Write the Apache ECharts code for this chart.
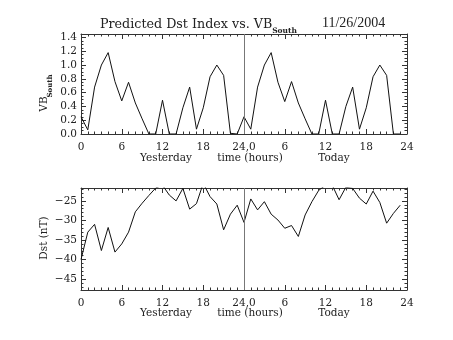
<!DOCTYPE html>
<html><head><meta charset="utf-8">
<script src="https://cdn.jsdelivr.net/npm/echarts@6/dist/echarts.min.js"></script>
<style>html,body{margin:0;padding:0;background:#fff}#c{width:453px;height:340px}</style>
</head><body><div id="c"></div>
<script>
const hours = [0,1,2,3,4,5,6,7,8,9,10,11,12,13,14,15,16,17,18,19,20,21,22,23,
  24,25,26,27,28,29,30,31,32,33,34,35,36,37,38,39,40,41,42,43,44,45,46,47];
const vbSouth = [0.25,0.06,0.68,1.0,1.18,0.76,0.48,0.75,0.45,0.22,0,0,0.49,0,0,0.38,0.68,0.07,0.38,0.83,1.0,0.85,0.01,0.0,
  0.25,0.07,0.68,1.0,1.18,0.75,0.47,0.76,0.45,0.22,0,0,0.49,0,0,0.40,0.68,0.07,0.38,0.83,1.0,0.85,0.0,0.0];
const dst = [-40,-33,-31,-37.7,-31.8,-38.1,-36,-33,-27.8,-25.6,-23.6,-21.7,-21,-23.5,-25,-21.8,-27.1,-25.7,-20.5,-23.9,-25.8,-32.4,-28.4,-26.1,
  -30.5,-24.5,-27.3,-25.2,-28.4,-29.9,-32,-31.3,-34.1,-28.6,-25.2,-22.3,-21,-21,-24.7,-21.5,-21.8,-24.3,-25.8,-22.5,-25.4,-30.7,-28.2,-26.1];
const xTickLabels = {0:'0',6:'6',12:'12',18:'18',24:'24,0',30:'6',36:'12',42:'18',48:'24'};
const dstLabelValues = [-45,-40,-35,-30,-25];
const dstMinorValues = [-47,-46,-44,-43,-42,-41,-39,-38,-37,-36,-34,-33,-32,-31,-29,-28,-27,-26,-24,-23,-22];

const FONT = 'DejaVu Serif';
const AX = '#333';
const TXT = '#222';
const FS = 10.5;
const chart = echarts.init(document.getElementById('c'));

function xAx(grid, top) {
  return {
    type:'value', gridIndex:grid, position: top?'top':'bottom', min:0, max:48, interval:6,
    axisLine:{show:true, onZero:false, lineStyle:{color:AX,width:1}},
    axisTick:{show:true, inside:true, length:5, lineStyle:{color:AX}},
    minorTick:{show:true, splitNumber:6, length:2.5, lineStyle:{color:AX}},
    splitLine:{show:false}, minorSplitLine:{show:false},
    axisLabel:{show:!top, margin:8, color:TXT, fontFamily:FONT, fontSize:FS,
      formatter:v=>xTickLabels[v]!==undefined?xTickLabels[v]:''}
  };
}
const yTop = (right)=>({
  type:'value', gridIndex:0, position: right?'right':'left', min:0, max:1.45, interval:0.2,
  axisLine:{show:true, onZero:false, lineStyle:{color:AX,width:1}},
  axisTick:{show:true, inside:true, length:5, lineStyle:{color:AX}},
  minorTick:{show:true, splitNumber:4, length:2.5, lineStyle:{color:AX}},
  splitLine:{show:false},
  axisLabel:{show:!right, showMaxLabel:false, margin:4, color:TXT, fontFamily:FONT, fontSize:FS,
    formatter:v=>v.toFixed(1)}
});
const yBot = (right, minor)=>({
  type:'value', gridIndex:1, position: right?'right':'left', min:-47.8, max:-21.7,
  axisLine:{show:!minor, onZero:false, lineStyle:{color:AX,width:1}},
  axisTick:{show:true, inside:true, length:minor?2.5:5, customValues: minor?dstMinorValues:dstLabelValues, lineStyle:{color:AX}},
  splitLine:{show:false},
  axisLabel:{show:!right && !minor, customValues:dstLabelValues, margin:4, color:TXT, fontFamily:FONT, fontSize:FS,
    formatter:v=>(v<0?'\u2212'+Math.abs(v):''+v)}
});

const vline = {silent:true, symbol:'none', label:{show:false},
  lineStyle:{color:'#777', width:1, type:'solid'}, data:[{xAxis:24}]};

const txt = (s, x, y, extra)=>Object.assign({type:'text', x:x, y:y,
  style:{text:s, fontFamily:FONT, fontSize:FS, fill:TXT, align:'center', verticalAlign:'middle'}}, extra||{});

chart.setOption({
  animation:false,
  backgroundColor:'#fff',
  grid:[
    {left:81, top:34, width:326, height:100},
    {left:81, top:188, width:326, height:102}
  ],
  xAxis:[xAx(0,false), xAx(0,true), xAx(1,false), xAx(1,true)],
  yAxis:[yTop(false), yTop(true), yBot(false,false), yBot(true,false), yBot(false,true), yBot(true,true)],
  series:[
    {type:'line', xAxisIndex:0, yAxisIndex:0, data:hours.map((h,i)=>[h,vbSouth[i]]),
      symbol:'none', lineStyle:{color:'#111', width:1}, markLine:vline},
    {type:'line', xAxisIndex:2, yAxisIndex:2, data:hours.map((h,i)=>[h,dst[i]]),
      symbol:'none', lineStyle:{color:'#111', width:1}, markLine:vline, clip:true}
  ],
  graphic:[
    {type:'text', left:100, top:18, style:{
      text:'{t|Predicted Dst Index vs. VB}{s|South}',
      rich:{t:{fontFamily:FONT, fontSize:12.7, fill:TXT, verticalAlign:'top', lineHeight:14},
            s:{fontFamily:FONT, fontSize:7.5, fontWeight:'bold', fill:TXT, verticalAlign:'bottom', padding:[9,0,0,0]}}}},
    {type:'text', x:322, y:23, style:{text:'11/26/2004', fontFamily:'Liberation Serif', fontSize:14, fill:TXT, align:'left', verticalAlign:'middle'}},
    txt('Yesterday',166,158), txt('time (hours)',250,158), txt('Today',334,158),
    txt('Yesterday',166,313), txt('time (hours)',250,313), txt('Today',334,313),
    txt('VB',44,104,{rotation:Math.PI/2}),
    {type:'text', x:50, y:86, rotation:Math.PI/2, style:{text:'South', fontFamily:FONT, fontSize:7, fontWeight:'bold', fill:TXT, align:'center', verticalAlign:'middle'}},
    txt('Dst (nT)',44,238,{rotation:Math.PI/2})
  ]
});
</script></body></html>
